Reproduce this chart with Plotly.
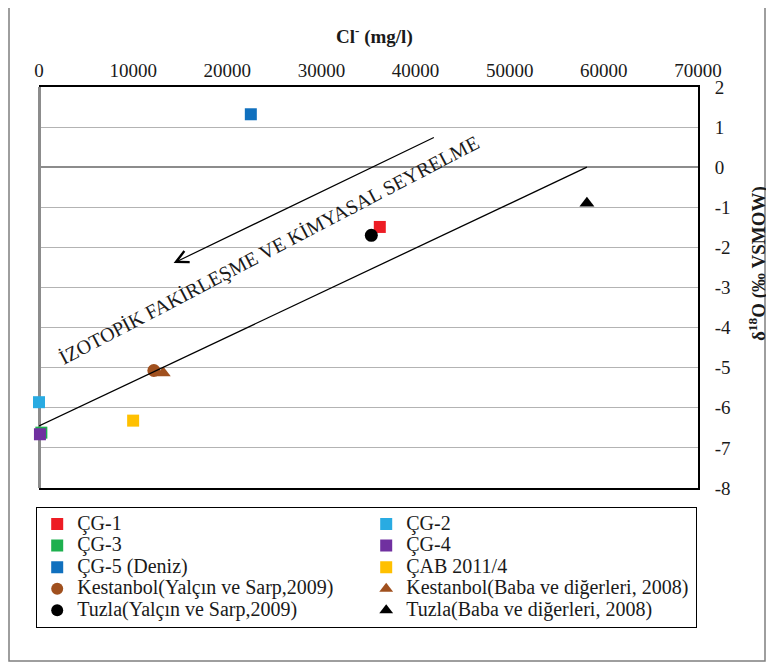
import plotly.graph_objects as go

# ---- data ----
series_names = ["ÇG-1", "ÇG-2", "ÇG-3", "ÇG-4", "ÇG-5 (Deniz)", "ÇAB 2011/4",
                "Kestanbol(Yalçın ve Sarp,2009)", "Kestanbol(Baba ve diğerleri, 2008)",
                "Tuzla(Yalçın ve Sarp,2009)", "Tuzla(Baba ve diğerleri, 2008)"]
cl_values = [36200, 0, 250, 100, 22500, 10000, 12200, 13200, 35300, 58200]
o18_values = [-1.49, -5.86, -6.62, -6.66, 1.32, -6.32, -5.07, -5.13, -1.70, -0.90]
series_colors = ["#ED1C24", "#29ABE2", "#1DB04E", "#7030A0", "#1070BE", "#FFC000",
                 "#A0501E", "#A0501E", "#000000", "#000000"]
series_symbols = ["square", "square", "square", "square", "square", "square",
                  "circle", "triangle-up", "circle", "triangle-up"]

x_ticks = [0, 10000, 20000, 30000, 40000, 50000, 60000, 70000]
y_ticks = [2, 1, 0, -1, -2, -3, -4, -5, -6, -7, -8]

# trend line and arrow (annotation geometry)
trend_x = [0, 58200]
trend_y = [-6.45, 0.0]
arrow_tail = (42100, 0.76)
arrow_head = (14300, -2.39)
label_text = "İZOTOPİK FAKİRLEŞME VE KİMYASAL SEYRELME"
label_pos = (24400, -2.07)

FONT = "Liberation Serif"
TXT = "#1a1a1a"

# plot area in page pixels (reference); page has an 8px body margin
PL, PR, PT, PB = 39, 698, 87, 488
PW, PH = PR - PL, PB - PT
OFF = 8


def px_x(p):
    return (p - PL) / PW


def px_y(p):
    return (PB - p) / PH


fig = go.Figure()
for name, xv, yv, col, sym in zip(series_names, cl_values, o18_values, series_colors, series_symbols):
    size = 12 if sym == "square" else 13
    fig.add_trace(go.Scatter(x=[xv], y=[yv], mode="markers",
                             name=f'<span style="font-size:20px">{name}</span>',
                             cliponaxis=False,
                             marker=dict(color=col, symbol=sym, size=size, line=dict(width=0))))

fig.add_trace(go.Scatter(x=trend_x, y=trend_y, mode="lines", showlegend=False,
                         line=dict(color="black", width=1.3), hoverinfo="skip"))

fig.add_annotation(x=arrow_head[0], y=arrow_head[1], ax=arrow_tail[0], ay=arrow_tail[1],
                   xref="x", yref="y", axref="x", ayref="y", text="", showarrow=True,
                   arrowhead=5, arrowsize=2, arrowwidth=1.2, arrowcolor="black", standoff=0)
fig.add_annotation(x=label_pos[0], y=label_pos[1], xref="x", yref="y", text=label_text,
                   showarrow=False, textangle=-27.6,
                   font=dict(family=FONT, size=20, color=TXT))

# axis titles
fig.add_annotation(x=px_x(374), y=px_y(35), xref="paper", yref="paper",
                   xanchor="center", yanchor="middle",
                   text="<b>Cl<sup>-</sup> (mg/l)</b>", showarrow=False,
                   font=dict(family=FONT, size=19, color=TXT))
fig.add_annotation(x=px_x(757), y=px_y(263), xref="paper", yref="paper",
                   xanchor="center", yanchor="middle",
                   text="<b>δ<sup>18</sup>O (‰ VSMOW)</b>", showarrow=False, textangle=-90,
                   font=dict(family=FONT, size=19, color=TXT))

# outer frame
fig.add_shape(type="rect", xref="paper", yref="paper",
              x0=px_x(9), x1=px_x(765), y0=px_y(661), y1=px_y(1.5),
              line=dict(color="#7f7f7f", width=1.5), layer="below")

fig.update_layout(
    width=774, height=663,
    margin=dict(l=PL - OFF, r=774 - (PR - OFF), t=PT - OFF, b=663 - (PB - OFF), autoexpand=False),
    paper_bgcolor="white", plot_bgcolor="white",
    font=dict(family=FONT, size=19, color=TXT),
    showlegend=True,
    legend=dict(orientation="h", x=px_x(36), xanchor="left",
                y=px_y(507), yanchor="top",
                entrywidth=284, entrywidthmode="pixels",
                bgcolor="white", bordercolor="black", borderwidth=1.2,
                font=dict(family=FONT, size=14.3, color=TXT),
                itemsizing="constant", tracegroupgap=0),
    xaxis=dict(side="top", range=[0, 70000], tickvals=x_ticks,
               ticktext=[str(v) for v in x_ticks],
               showgrid=False, zeroline=True, zerolinecolor="#8c8c8c", zerolinewidth=2.5,
               showline=True, linecolor="black", linewidth=2, mirror=True,
               ticks="", tickfont=dict(family=FONT, size=19, color=TXT), fixedrange=True),
    yaxis=dict(side="right", range=[-8, 2], tickvals=y_ticks,
               ticktext=[str(v) for v in y_ticks],
               showgrid=True, gridcolor="#b3b3b3", gridwidth=1.3,
               zeroline=True, zerolinecolor="#8c8c8c", zerolinewidth=1.6,
               showline=True, linecolor="black", linewidth=2,
               ticks="outside", ticklen=11, tickcolor="rgba(0,0,0,0)",
               tickfont=dict(family=FONT, size=19, color=TXT), fixedrange=True),
)

fig.write_html("out.html")
